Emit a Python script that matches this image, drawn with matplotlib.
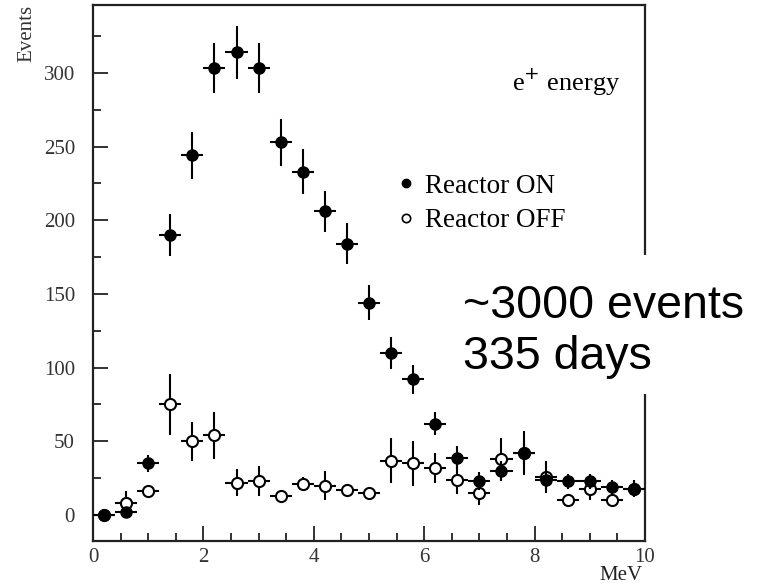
import matplotlib
matplotlib.use("Agg")
import matplotlib.pyplot as plt
from matplotlib.lines import Line2D
from matplotlib.patches import Rectangle
from matplotlib.ticker import MultipleLocator

# ---- data ----
energy = [0.2, 0.6, 1.0, 1.4, 1.8, 2.2, 2.6, 3.0, 3.4, 3.8, 4.2, 4.6, 5.0,
          5.4, 5.8, 6.2, 6.6, 7.0, 7.4, 7.8, 8.2, 8.6, 9.0, 9.4, 9.8]
bin_half = [0.2] * 25
on_counts = [0, 2, 35, 190, 244, 303, 314, 303, 253, 233, 206, 184, 144,
             110, 92, 62, 39, 23, 30, 42, 24, 23, 23, 19, 18]
on_err = [2, 2, 6, 14, 16, 17, 18, 17, 16, 15, 14, 14, 12,
          11, 10, 8, 8, 6, 7, 8, 6, 5, 5, 5, 6]
off_counts = [0, 8, 16, 75, 50, 54, 22, 23, 13, 21, 20, 17, 15,
              37, 35, 32, 24, 15, 38, 42, 26, 10, 18, 10, 18]
off_err = [1, 8, 3, 21, 13, 16, 9, 10, 3, 5, 10, 4, 2,
           15, 15, 10, 10, 8, 14, 15, 11, 3, 8, 4, 5]
legend_labels = ["Reactor ON", "Reactor OFF"]
y_ticks = [0, 50, 100, 150, 200, 250, 300]
x_ticks = [0, 2, 4, 6, 8, 10]

W, H = 769, 584
fig = plt.figure(figsize=(W / 100, H / 100), dpi=100)
ax = fig.add_axes([93 / W, 1 - 541 / H, (645 - 93) / W, (541 - 5) / H])

serif = "Liberation Serif"

ax.errorbar(energy, on_counts, xerr=bin_half, yerr=on_err, fmt='o',
            color='black', ms=8, elinewidth=1.5, capsize=0, zorder=3)
ax.errorbar(energy, off_counts, xerr=bin_half, yerr=off_err, fmt='o',
            color='black', mfc='white', mec='black', mew=1.5, ms=8,
            elinewidth=1.5, capsize=0, zorder=2)

ax.set_xlim(0, 10)
ax.set_ylim(-17.6, 346)
ax.set_xticks(x_ticks)
ax.set_yticks(y_ticks)
ax.xaxis.set_minor_locator(MultipleLocator(0.5))
ax.yaxis.set_minor_locator(MultipleLocator(25))
ax.tick_params(which='both', direction='in', top=False, right=False,
               color='#222222', width=1.3)
ax.tick_params(which='major', length=11)
ax.tick_params(which='minor', length=6)
ax.tick_params(axis='y', pad=13)
ax.tick_params(axis='x', pad=5)
for lbl in ax.get_xticklabels() + ax.get_yticklabels():
    lbl.set_fontfamily(serif)
    lbl.set_fontsize(15)
    lbl.set_color('#333333')
for sp in ax.spines.values():
    sp.set_linewidth(1.6)
    sp.set_color('#222222')

fig.text(27 / W, 1 - 5 / H, "Events", rotation=90, ha='center', va='top',
         family=serif, fontsize=15, color='#333333')
fig.text(643 / W, 1 - 580 / H, "MeV", ha='right', va='baseline',
         family=serif, fontsize=15, color='#222222')

ax.text(0.955, 0.84, r"e$^{+}$ energy", transform=ax.transAxes, ha='right',
        va='baseline', family=serif, fontsize=19)

handles = [Line2D([], [], marker='o', ls='none', color='black', ms=6),
           Line2D([], [], marker='o', ls='none', mfc='white', mec='black',
                  mew=1.2, ms=6)]
leg = ax.legend(handles, legend_labels, loc='upper left',
                bbox_to_anchor=(382 / W, 1 - 160 / H),
                bbox_transform=fig.transFigure, frameon=False,
                prop={'family': serif, 'size': 19.5}, handlelength=0.8,
                handletextpad=0.3, labelspacing=0.35, borderpad=0)

# white text box covering part of the plot
fig.patches.append(Rectangle((445 / W, 1 - 394 / H), (W - 445) / W,
                             (394 - 255) / H, transform=fig.transFigure,
                             facecolor='white', edgecolor='none', zorder=5))
fig.text(463 / W, 1 - 318 / H, "~3000 events", ha='left', va='baseline',
         family="Liberation Sans", fontsize=33.5, zorder=6)
fig.text(463 / W, 1 - 369 / H, "335 days", ha='left', va='baseline',
         family="Liberation Sans", fontsize=33.5, zorder=6)

fig.savefig("out.png", dpi=100)
